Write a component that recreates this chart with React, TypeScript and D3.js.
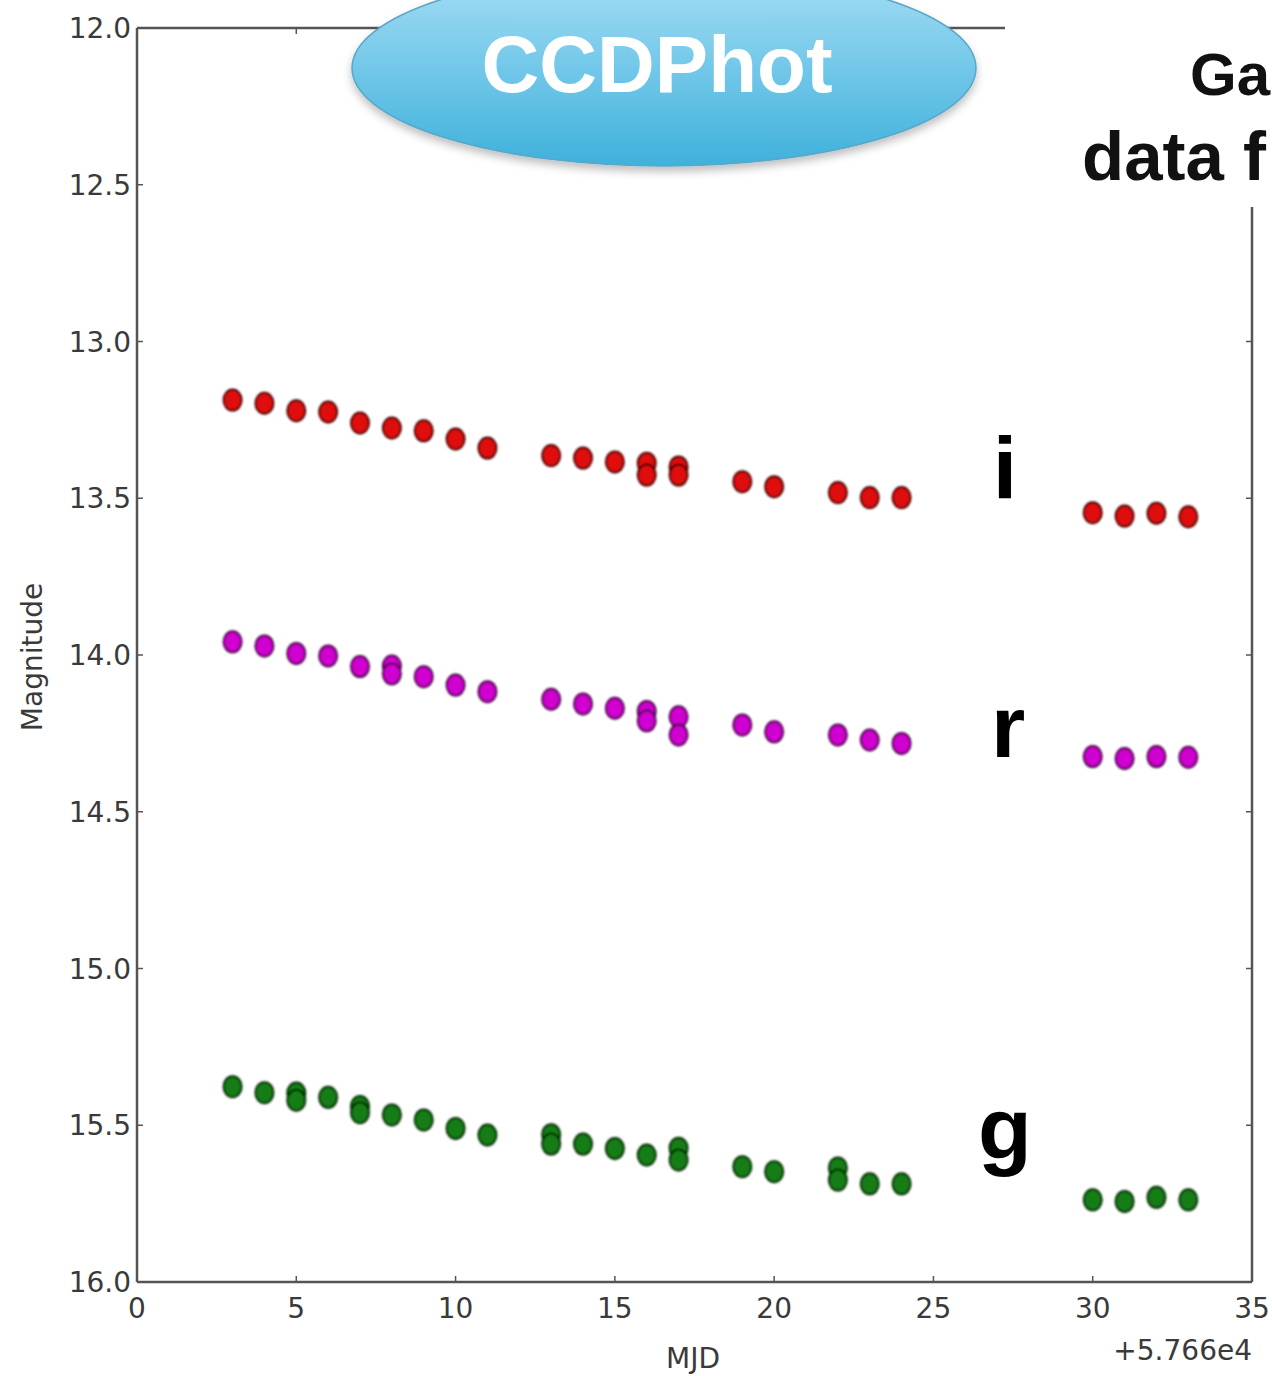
import * as d3 from "d3";

// i band (red)
const iDays = [3, 4, 5, 6, 7, 8, 9, 10, 11, 13, 14, 15, 16, 16, 17, 17, 19, 20, 22, 23, 24, 30, 31, 32, 33];
const iMags = [13.187, 13.197, 13.221, 13.225, 13.26, 13.276, 13.285, 13.311, 13.34, 13.364, 13.372, 13.384, 13.388, 13.426, 13.4, 13.426, 13.447, 13.463, 13.482, 13.498, 13.498, 13.546, 13.557, 13.548, 13.559];

// r band (magenta)
const rDays = [3, 4, 5, 6, 7, 8, 8, 9, 10, 11, 13, 14, 15, 16, 16, 17, 17, 19, 20, 22, 23, 24, 30, 31, 32, 33];
const rMags = [13.958, 13.971, 13.995, 14.003, 14.037, 14.035, 14.06, 14.069, 14.096, 14.117, 14.141, 14.156, 14.17, 14.18, 14.21, 14.197, 14.255, 14.223, 14.245, 14.255, 14.271, 14.282, 14.324, 14.33, 14.324, 14.326];

// g band (green)
const gDays = [3, 4, 5, 5, 6, 7, 7, 8, 9, 10, 11, 13, 13, 14, 15, 16, 17, 17, 19, 20, 22, 22, 23, 24, 30, 31, 32, 33];
const gMags = [15.377, 15.396, 15.397, 15.42, 15.411, 15.44, 15.46, 15.467, 15.483, 15.51, 15.531, 15.53, 15.56, 15.56, 15.574, 15.595, 15.573, 15.611, 15.632, 15.648, 15.636, 15.675, 15.687, 15.687, 15.738, 15.743, 15.73, 15.738];

const xTicks = [0, 5, 10, 15, 20, 25, 30, 35];
const yTicks = [12.0, 12.5, 13.0, 13.5, 14.0, 14.5, 15.0, 15.5, 16.0];

const bands = [
  { name: "i", days: iDays, mags: iMags, fill: "#e00a0a", edge: "#4a0000" },
  { name: "r", days: rDays, mags: rMags, fill: "#d000d0", edge: "#4a004a" },
  { name: "g", days: gDays, mags: gMags, fill: "#127d12", edge: "#022a02" },
];

export default function App() {
  const W = 1272;
  const H = 1376;
  const left = 137, right = 1252, top = 28, bottom = 1282;

  const x = d3.scaleLinear().domain([0, 35]).range([left, right]);
  const y = d3.scaleLinear().domain([12, 16]).range([top, bottom]);

  const axisColor = "#555";
  const font = "DejaVu Sans, sans-serif";

  return (
    <svg width={W} height={H} style={{ position: "absolute", left: 0, top: 0, background: "#fff" }}>
      <defs>
        <linearGradient id="pill" x1="0" y1="0" x2="0" y2="1">
          <stop offset="0%" stopColor="#a6def5" />
          <stop offset="100%" stopColor="#3fb1dc" />
        </linearGradient>
        <filter id="soft" x="-20%" y="-20%" width="140%" height="140%">
          <feGaussianBlur stdDeviation="1.1" />
        </filter>
        <filter id="shadow" x="-10%" y="-20%" width="120%" height="150%">
          <feDropShadow dx="0" dy="5" stdDeviation="4" floodColor="#000" floodOpacity="0.25" />
        </filter>
      </defs>
      <rect x={0} y={0} width={W} height={H} fill="#fff" />

      {/* frame */}
      <g stroke={axisColor} strokeWidth={2.5} fill="none">
        <line x1={left} y1={top} x2={1005} y2={top} />
        <line x1={left} y1={top} x2={left} y2={bottom} />
        <line x1={left} y1={bottom} x2={right} y2={bottom} />
        <line x1={right} y1={207} x2={right} y2={bottom} />
      </g>

      {/* ticks */}
      <g stroke={axisColor} strokeWidth={1.5}>
        {yTicks.map((t) => (
          <g key={"yt" + t}>
            <line x1={left} x2={left + 6} y1={y(t)} y2={y(t)} />
            {y(t) > 207 && <line x1={right} x2={right - 6} y1={y(t)} y2={y(t)} />}
          </g>
        ))}
        {xTicks.map((t) => (
          <g key={"xt" + t}>
            <line x1={x(t)} x2={x(t)} y1={bottom} y2={bottom - 6} />
            {x(t) < 1005 && <line x1={x(t)} x2={x(t)} y1={top} y2={top + 6} />}
          </g>
        ))}
      </g>

      {/* tick labels */}
      <g fontFamily={font} fontSize={28} fill="#3a3a3a">
        {yTicks.map((t) => (
          <text key={"yl" + t} x={left - 6} y={y(t)} dy="0.36em" textAnchor="end">
            {t.toFixed(1)}
          </text>
        ))}
        {xTicks.map((t) => (
          <text key={"xl" + t} x={x(t)} y={bottom + 36} textAnchor="middle">
            {t}
          </text>
        ))}
        <text x={693} y={1368} textAnchor="middle">MJD</text>
        <text x={right} y={1360} textAnchor="end">+5.766e4</text>
        <text transform={`translate(42, ${(top + bottom) / 2 + 2}) rotate(-90)`} textAnchor="middle">
          Magnitude
        </text>
      </g>

      {/* data points */}
      {bands.map((b) => (
        <g key={b.name} filter="url(#soft)">
          {b.days.map((d, k) => (
            <ellipse
              key={k}
              cx={x(d)}
              cy={y(b.mags[k])}
              rx={9}
              ry={10.5}
              fill={b.fill}
              stroke={b.edge}
              strokeWidth={2}
            />
          ))}
        </g>
      ))}

      {/* band labels */}
      <g fontFamily="Liberation Sans, Arial, sans-serif" fontWeight="bold" fontSize={88} fill="#000" textAnchor="middle">
        <text x={1005} y={498}>i</text>
        <text x={1008} y={757}>r</text>
        <text x={1005} y={1159}>g</text>
      </g>

      {/* CCDPhot badge */}
      <ellipse cx={664} cy={68} rx={312} ry={98} fill="url(#pill)" stroke="#5aa6c6" strokeWidth={1.5} filter="url(#shadow)" />
      <text
        x={657}
        y={92}
        textAnchor="middle"
        fontFamily="Liberation Sans, Arial, sans-serif"
        fontWeight="bold"
        fontSize={80}
        fill="#fff"
      >
        CCDPhot
      </text>

      {/* overlaid caption at the right edge */}
      <g fontFamily="Liberation Sans, Arial, sans-serif" fontWeight="bold" fill="#111">
        <text x={1190} y={95} fontSize={60}>Ga</text>
        <text x={1082} y={180} fontSize={68} textLength={184} lengthAdjust="spacingAndGlyphs">data f</text>
      </g>
    </svg>
  );
}
